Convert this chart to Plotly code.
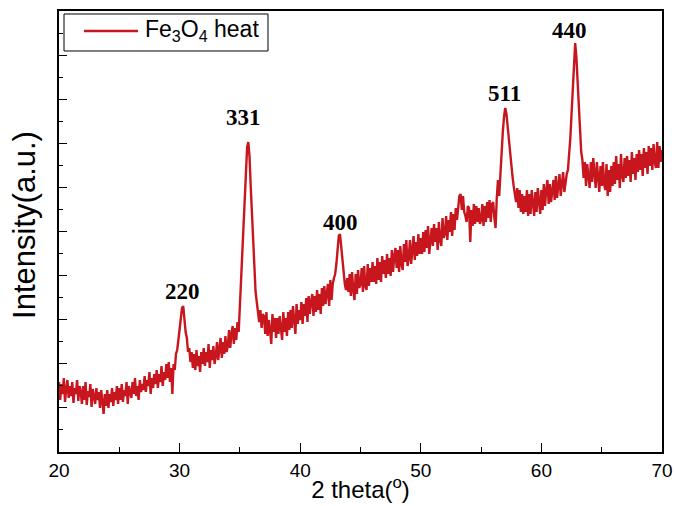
import plotly.graph_objects as go

# 2-theta sampling grid: 20.0 .. 70.0 deg in 0.1 deg steps
two_theta = [round(20 + 0.1 * i, 1) for i in range(501)]

# Intensity (a.u.), one row per degree
intensity = [
    70, 52, 68, 58, 74, 50, 63, 72, 54, 66,          # 20
    56, 70, 49, 64, 58, 72, 51, 66, 60, 48,          # 21
    66, 52, 70, 47, 61, 55, 68, 45, 63, 57,          # 22
    48, 64, 52, 60, 44, 62, 50, 38, 58, 46,          # 23
    62, 44, 58, 50, 64, 46, 60, 52, 66, 48,          # 24
    64, 52, 68, 50, 62, 56, 70, 48, 66, 58,          # 25
    54, 70, 58, 74, 56, 66, 52, 72, 60, 68,          # 26
    62, 76, 60, 72, 66, 80, 58, 74, 64, 78,          # 27
    68, 82, 64, 78, 70, 86, 66, 80, 72, 88,          # 28
    74, 90, 70, 84, 58, 88, 82, 98, 102, 112,        # 29
    122, 132, 144, 146, 132, 120, 114, 100, 104, 90, # 30
    100, 84, 98, 82, 102, 86, 96, 80, 100, 88,       # 31
    104, 86, 100, 90, 108, 84, 102, 92, 106, 88,     # 32
    96, 110, 92, 108, 114, 94, 110, 98, 116, 100,    # 33
    106, 122, 104, 118, 126, 108, 124, 112, 130, 120,# 34
    147, 165, 195, 215, 245, 270, 305, 310, 295, 265,# 35
    240, 205, 180, 160, 150, 142, 130, 142, 124, 138,# 36
    136, 118, 140, 116, 132, 122, 108, 138, 120, 134,# 37
    114, 134, 118, 136, 122, 112, 140, 120, 134, 116,# 38
    140, 122, 142, 124, 146, 126, 118, 148, 128, 142,# 39
    132, 150, 128, 148, 136, 154, 130, 156, 138, 150,# 40
    158, 136, 156, 140, 162, 142, 158, 138, 164, 146,# 41
    166, 148, 162, 168, 146, 172, 152, 168, 174, 178,# 42
    188, 202, 216, 218, 206, 190, 176, 168, 162, 174,# 43
    160, 178, 156, 180, 162, 152, 178, 158, 182, 164,# 44
    168, 184, 160, 186, 166, 162, 188, 166, 184, 170,# 45
    190, 170, 186, 168, 194, 172, 190, 170, 196, 178,# 46
    192, 174, 198, 178, 194, 176, 202, 180, 196, 204,# 47
    184, 202, 180, 206, 188, 182, 208, 190, 212, 186,# 48
    194, 212, 188, 208, 216, 192, 210, 196, 218, 198,# 49
    214, 198, 220, 200, 222, 204, 226, 198, 216, 224,# 50
    206, 228, 210, 224, 202, 230, 212, 206, 234, 214,# 51
    218, 236, 212, 232, 220, 240, 216, 238, 222, 244,# 52
    232, 244, 256, 258, 242, 256, 240, 236, 230, 246,# 53
    244, 210, 242, 226, 248, 228, 246, 230, 244, 228,# 54
    232, 248, 226, 246, 230, 250, 234, 252, 230, 248,# 55
    250, 234, 224, 254, 272, 256, 280, 300, 320, 335,# 56
    344, 338, 325, 310, 296, 284, 276, 266, 258, 250,# 57
    264, 244, 262, 240, 258, 238, 256, 240, 262, 236,# 58
    258, 238, 262, 244, 236, 260, 240, 264, 246, 238,# 59
    262, 242, 268, 246, 262, 272, 248, 268, 250, 264,# 60
    272, 252, 276, 254, 268, 278, 256, 272, 280, 260,# 61
    270, 278, 282, 297, 314, 338, 362, 392, 409, 395,# 62
    372, 348, 322, 300, 292, 274, 290, 266, 288, 272,# 63
    264, 290, 270, 294, 274, 264, 290, 272, 260, 286,# 64
    266, 290, 268, 262, 288, 256, 282, 260, 286, 266,# 65
    290, 268, 296, 272, 288, 264, 298, 276, 270, 294,# 66
    274, 296, 276, 292, 270, 300, 278, 294, 272, 298,# 67
    280, 302, 282, 298, 276, 304, 284, 300, 278, 306,# 68
    286, 304, 282, 308, 290, 284, 310, 284, 306, 290,# 69
    302,                                             # 70
]

series_name = "Fe<sub>3</sub>O<sub>4</sub> heat"
line_color = "rgb(200,22,30)"

peak_labels = ["220", "331", "400", "511", "440"]
peak_label_x = [30.28, 35.26, 43.30, 56.98, 62.37]
peak_label_y = [161, 335, 230, 359, 422]

x_ticks = [20, 30, 40, 50, 60, 70]

fig = go.Figure()
fig.add_trace(go.Scatter(
    x=two_theta, y=intensity, mode="lines", name=series_name,
    showlegend=False,
    line=dict(color=line_color, width=2.4),
))

for t, xv, yv in zip(peak_labels, peak_label_x, peak_label_y):
    fig.add_annotation(x=xv, y=yv, text="<b>%s</b>" % t, showarrow=False,
                       font=dict(family="Liberation Serif", size=23, color="black"))

fig.add_annotation(xref="paper", yref="paper", x=-34 / 603, y=0.515,
                   xanchor="center", yanchor="middle",
                   text="Intensity(a.u.)", textangle=-90, showarrow=False,
                   font=dict(family="Liberation Sans", size=31, color="black"))

# legend box drawn by hand (top-left inside plot)
fig.add_shape(type="rect", xref="paper", yref="paper",
              x0=0.0083, x1=0.3466, y0=0.9093, y1=0.9932,
              line=dict(color="black", width=1), fillcolor="white", layer="above")
fig.add_shape(type="line", xref="paper", yref="paper",
              x0=0.0415, x1=0.131, y0=0.9547, y1=0.9547,
              line=dict(color=line_color, width=2.4), layer="above")
fig.add_annotation(xref="paper", yref="paper", x=0.139, y=0.9547,
                   xanchor="left", yanchor="middle", text=series_name,
                   showarrow=False,
                   font=dict(family="Liberation Sans", size=23, color="black"))

fig.update_layout(
    width=675, height=506,
    margin=dict(l=59, r=13, t=11, b=54, autoexpand=False),
    plot_bgcolor="white", paper_bgcolor="white",
    font=dict(family="Liberation Sans", color="black"),
    showlegend=False,
)
fig.update_xaxes(
    range=[20, 70], tickvals=x_ticks, ticks="inside", ticklen=9, tickwidth=1.3,
    tickcolor="black", showline=True, linecolor="black", linewidth=1.5,
    mirror=True, showgrid=False, zeroline=False, automargin=False,
    tickfont=dict(size=19),
    minor=dict(dtick=5, tick0=20, ticks="inside", ticklen=5, tickcolor="black", tickwidth=1.3),
    title=dict(text="2 theta(<sup>o</sup>)", font=dict(size=24), standoff=2),
)
fig.update_yaxes(
    range=[0, 441], tick0=0, dtick=44.1, ticks="inside", ticklen=8, tickwidth=1.3,
    tickcolor="black", showticklabels=False, showline=True, linecolor="black",
    linewidth=1.5, mirror=True, showgrid=False, zeroline=False, automargin=False,
    minor=dict(dtick=22.05, tick0=0, ticks="inside", ticklen=4, tickcolor="black", tickwidth=1.3),
)

fig.write_html("out.html", config={"displayModeBar": False},
               post_script="document.body.style.margin='0';document.body.style.padding='0';")
